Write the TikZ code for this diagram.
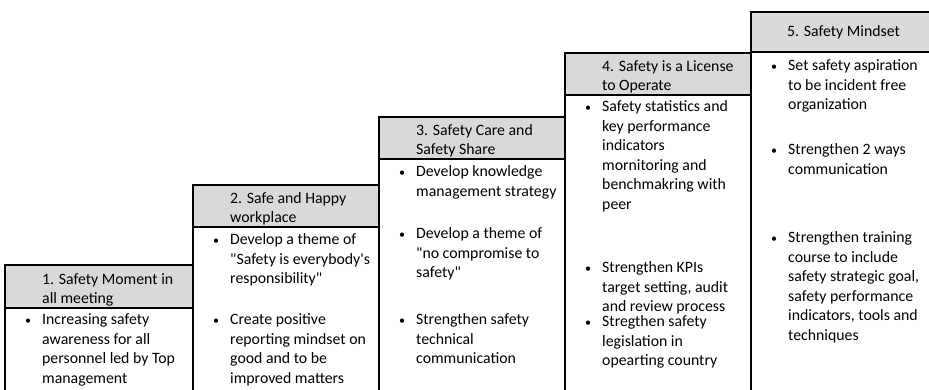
\documentclass[tikz,border=0pt]{standalone}
\usepackage{fontspec}
\setmainfont{Carlito}
\definecolor{hdrgray}{RGB}{217,217,217}
\tikzset{
  frame/.style={line width=1.6pt, draw=black, line join=miter, line cap=rect},
  sepline/.style={line width=1.4pt, draw=black, line cap=rect},
  hdrfill/.style={fill=hdrgray, draw=none},
  hdrtext/.style={anchor=north west, inner sep=0pt, align=left, font=\fontsize{15.8pt}{19pt}\selectfont},
  itemtext/.style={anchor=north west, inner sep=0pt, align=left, font=\fontsize{15.8pt}{19.5pt}\selectfont},
}
\newcommand{\bul}{\strut\makebox[17pt][l]{{\fontsize{12pt}{12pt}\selectfont •}}}
\newcommand{\ind}{\hspace*{17pt}}
\newcommand{\dq}{\textquotedbl}
\begin{document}
\begin{tikzpicture}[x=1pt,y=-1pt]
\clip (0,0) rectangle (929,389);
\fill[white] (0,0) rectangle (929,389);
% header fills
\fill[hdrfill] (5,265) rectangle (193,308);
\fill[hdrfill] (193,185) rectangle (379,227);
\fill[hdrfill] (379,117) rectangle (565,159);
\fill[hdrfill] (565,53) rectangle (751,95);
\fill[hdrfill] (751,12) rectangle (935,52);
% frames
\draw[frame] (5,400) -- (5,265) -- (193,265);
\draw[frame] (193,400) -- (193,185) -- (379,185);
\draw[frame] (379,400) -- (379,117) -- (565,117);
\draw[frame] (565,400) -- (565,53) -- (751,53);
\draw[frame] (751,400) -- (751,12) -- (935,12);
% separators
\draw[sepline] (5,308) -- (193,308);
\draw[sepline] (193,227) -- (379,227);
\draw[sepline] (379,159) -- (565,159);
\draw[sepline] (565,95) -- (751,95);
\draw[sepline] (751,52) -- (935,52);
% header texts
\node[hdrtext] (h1) at (42,271) {\strut 1. Safety Moment in\\all meeting};
\node[hdrtext] (h2) at (230,190) {\strut 2. Safe and Happy\\workplace};
\node[hdrtext] (h3) at (416,122) {\strut 3. Safety Care and\\Safety Share};
\node[hdrtext] (h4) at (602,58) {\strut 4. Safety is a License\\to Operate};
\node[hdrtext] (h5) at (787,23) {\strut 5. Safety Mindset};
% column 1
\node[itemtext] (c1a) at (25,311) {\bul Increasing safety\\\ind awareness for all\\\ind personnel led by Top\\\ind management};
% column 2
\node[itemtext] (c2a) at (213,231) {\bul Develop a theme of\\\ind \dq Safety is everybody\textquotesingle s\\\ind responsibility\dq};
\node[itemtext] (c2b) at (213,311) {\bul Create positive\\\ind reporting mindset on\\\ind good and to be\\\ind improved matters};
% column 3
\node[itemtext] (c3a) at (399,163) {\bul Develop knowledge\\\ind management strategy};
\node[itemtext] (c3b) at (399,225) {\bul Develop a theme of\\\ind \dq no compromise to\\\ind safety\dq};
\node[itemtext] (c3c) at (399,311) {\bul Strengthen safety\\\ind technical\\\ind communication};
% column 4
\node[itemtext] (c4a) at (585,98) {\bul Safety statistics and\\\ind key performance\\\ind indicators\\\ind mornitoring and\\\ind benchmakring with\\\ind peer};
\node[itemtext] (c4b) at (585,259) {\bul Strengthen KPIs\\\ind target setting, audit\\\ind and review process};
\node[itemtext] (c4c) at (585,313) {\bul Stregthen safety\\\ind legislation in\\\ind opearting country};
% column 5
\node[itemtext] (c5a) at (771,57) {\bul Set safety aspiration\\\ind to be incident free\\\ind organization};
\node[itemtext] (c5b) at (771,141) {\bul Strengthen 2 ways\\\ind communication};
\node[itemtext] (c5c) at (771,229) {\bul Strengthen training\\\ind course to include\\\ind safety strategic goal,\\\ind safety performance\\\ind indicators, tools and\\\ind techniques};
\end{tikzpicture}
\end{document}
